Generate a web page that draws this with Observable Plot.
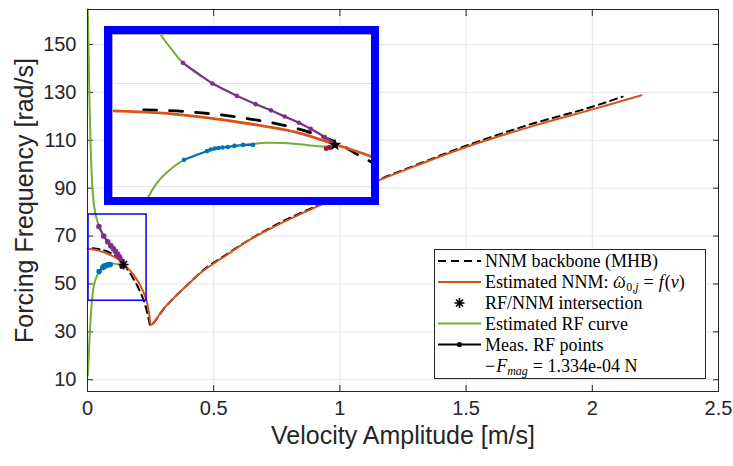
<!DOCTYPE html>
<html><head><meta charset="utf-8">
<script src="https://cdn.jsdelivr.net/npm/d3@7"></script>
<script src="https://cdn.jsdelivr.net/npm/@observablehq/plot@0.6"></script>
<style>
body{margin:0;background:#fff;}
#wrap{position:relative;width:733px;height:466px;overflow:hidden;}
#inset{position:absolute;left:104px;top:26px;width:259px;height:163px;border:8px solid #0000ff;background:#fff;}
#inset svg{display:block;}
#legend{position:absolute;left:434px;top:249px;}
#legend svg{display:block;}
</style></head><body><div id="wrap"></div>
<script>
// ---- axis ticks ----
const xTicks = [0, 0.5, 1, 1.5, 2, 2.5];
const xTickLabels = ["0", "0.5", "1", "1.5", "2", "2.5"];
const yTicks = [10, 30, 50, 70, 90, 110, 130, 150];
const insetGridY = [50, 70];
const xDomain = [0, 2.5];
const yDomain = [5.1, 164.6];
const insetXDomain = [0, 0.1665];
const insetYDomain = [47.9, 79.5];
const zoomBoxX = [0.004, 0.234];
const zoomBoxY = [43, 79];

// ---- NNM backbone (MHB), dashed black ----
const bbX = [0.02, 0.05, 0.08, 0.11, 0.13, 0.145, 0.16, 0.175, 0.19, 0.205, 0.22, 0.232, 0.242, 0.25, 0.265, 0.3, 0.35, 0.4, 0.45, 0.55, 0.65, 0.75, 0.9, 1.0, 1.15, 1.3, 1.5, 1.75, 2.0, 2.12];
const bbY = [64.9, 64.5, 63.5, 61.9, 60.2, 58.4, 55.8, 53.4, 50.7, 47.6, 43.9, 40.0, 35.5, 32.5, 34.2, 39.3, 45.0, 50.0, 55.0, 62.3, 69.0, 74.9, 82.2, 86.8, 93.4, 99.6, 107.7, 116.5, 124.0, 128.2];

// ---- Estimated NNM (orange) ----
const nnmX = [0.0, 0.03, 0.06, 0.09, 0.12, 0.143, 0.165, 0.185, 0.205, 0.22, 0.234, 0.243, 0.253, 0.27, 0.3, 0.35, 0.4, 0.45, 0.55, 0.647, 0.75, 0.911, 1.0, 1.162, 1.3, 1.495, 1.75, 2.0, 2.195];
const nnmY = [64.7, 64.3, 63.4, 62.1, 60.4, 58.2, 56.0, 53.5, 50.2, 47.0, 43.0, 38.5, 33.0, 35.0, 39.5, 45.0, 50.0, 54.8, 62.0, 68.7, 74.5, 82.4, 86.5, 93.6, 99.3, 107.0, 115.5, 122.9, 128.8];

// ---- Estimated RF curve (green), two branches ----
const rfUpX = [0.0012, 0.004, 0.008, 0.012, 0.016, 0.02, 0.025, 0.031, 0.0389, 0.0453, 0.0642, 0.080, 0.092, 0.1019, 0.1107, 0.1198, 0.1274, 0.1365, 0.143];
const rfUpY = [164.6, 148, 126, 109, 97, 89.5, 83.5, 79.5, 76.3, 74.0, 70.0, 67.6, 66.0, 64.8, 63.6, 62.4, 61.2, 59.7, 58.2];
const rfLoX = [0.0012, 0.003, 0.005, 0.0075, 0.010, 0.013, 0.016, 0.0195, 0.0229, 0.028, 0.0347, 0.046, 0.0608, 0.0681, 0.0784, 0.0903, 0.0989, 0.11, 0.1203, 0.1374, 0.143];
const rfLoY = [11.7, 16, 20.5, 26, 31, 36.5, 41, 45.2, 47.9, 50.5, 52.7, 55.2, 56.9, 57.5, 57.9, 58.3, 58.5, 58.45, 58.2, 57.8, 58.1];

// ---- Measured RF points ----
const upPtsX = [0.0453, 0.0642, 0.080, 0.092, 0.1019, 0.1107, 0.1198, 0.1274, 0.1365, 0.143];
const upPtsY = [74.0, 70.0, 67.6, 66.0, 64.8, 63.6, 62.4, 61.2, 59.6, 58.3];
const loPtsX = [0.046, 0.0608, 0.0631, 0.0657, 0.0681, 0.0707, 0.0741, 0.0784, 0.0839, 0.0903];
const loPtsY = [55.2, 56.9, 57.2, 57.4, 57.5, 57.6, 57.7, 57.9, 58.1, 58.1];
const midPtsX = [0.1374, 0.1395];
const midPtsY = [57.4, 57.6];

// ---- RF/NNM intersection ----
const crossX = [0.143];
const crossY = [58.1];

const C = {orange: "#D95319", green: "#77AC30", purple: "#7E2F8E", blue: "#0072BD", red: "#A2142F", box: "#0000FF", axis: "#262626", grid: "#e4e4e4"};

const pts = (xs, ys) => xs.map((x, i) => ({x, y: ys[i]}));
const bb = pts(bbX, bbY), nnm = pts(nnmX, nnmY), rfUp = pts(rfUpX, rfUpY), rfLo = pts(rfLoX, rfLoY);
const upPts = pts(upPtsX, upPtsY), loPts = pts(loPtsX, loPtsY), midPts = pts(midPtsX, midPtsY), cross = pts(crossX, crossY);
const upDots = upPts.slice(0, upPts.length - 1);
const zoomBox = [{x1: zoomBoxX[0], x2: zoomBoxX[1], y1: zoomBoxY[0], y2: zoomBoxY[1]}];

const asterisk8 = {
  draw(ctx, size) {
    const r = Math.sqrt(size / Math.PI), d = r * Math.SQRT1_2;
    ctx.moveTo(-r, 0); ctx.lineTo(r, 0);
    ctx.moveTo(0, -r); ctx.lineTo(0, r);
    ctx.moveTo(-d, -d); ctx.lineTo(d, d);
    ctx.moveTo(-d, d); ctx.lineTo(d, -d);
  }
};

const main = Plot.plot({
  width: 733, height: 466,
  marginLeft: 87, marginRight: 15, marginTop: 9, marginBottom: 75,
  x: {domain: xDomain},
  y: {domain: yDomain},
  style: {fontFamily: "'Liberation Sans', Arial, sans-serif", fontSize: "20px", color: C.axis, background: "#fff", overflow: "visible"},
  marks: [
    Plot.gridX(xTicks, {stroke: C.grid, strokeOpacity: 1}),
    Plot.gridY(yTicks, {stroke: C.grid, strokeOpacity: 1}),
    Plot.axisX(xTicks, {tickSize: 0, tickPadding: 9, tickFormat: d => xTickLabels[xTicks.indexOf(d)], label: null, fill: C.axis}),
    Plot.axisY(yTicks, {tickSize: 0, tickPadding: 11, label: null, fill: C.axis}),
    Plot.axisX(xTicks, {anchor: "bottom", tickSize: 6, insetBottom: 6, fill: "none", label: null, stroke: C.axis}),
    Plot.axisX(xTicks, {anchor: "top", tickSize: 6, insetTop: 6, fill: "none", label: null, stroke: C.axis}),
    Plot.axisY(yTicks, {anchor: "left", tickSize: 6, insetLeft: 6, fill: "none", label: null, stroke: C.axis}),
    Plot.axisY(yTicks, {anchor: "right", tickSize: 6, insetRight: 6, fill: "none", label: null, stroke: C.axis}),
    Plot.line(bb, {x: "x", y: "y", stroke: "#000", strokeWidth: 2, strokeDasharray: "7,5", curve: "monotone-x"}),
    Plot.line(nnm, {x: "x", y: "y", stroke: C.orange, strokeWidth: 2, curve: "catmull-rom"}),
    Plot.line(rfUp, {x: "x", y: "y", stroke: C.green, strokeWidth: 2, curve: "catmull-rom"}),
    Plot.line(rfLo, {x: "x", y: "y", stroke: C.green, strokeWidth: 2, curve: "catmull-rom"}),
    Plot.line(upPts, {x: "x", y: "y", stroke: C.purple, strokeWidth: 2}),
    Plot.dot(upDots, {x: "x", y: "y", fill: C.purple, r: 2.8}),
    Plot.line(loPts, {x: "x", y: "y", stroke: C.blue, strokeWidth: 2}),
    Plot.dot(loPts, {x: "x", y: "y", fill: C.blue, r: 2.8}),
    Plot.dot(midPts, {x: "x", y: "y", fill: C.red, r: 2.8}),
    Plot.dot(cross, {x: "x", y: "y", symbol: asterisk8, r: 5, stroke: "#000", strokeWidth: 1.6}),
    Plot.rect(zoomBox, {x1: "x1", x2: "x2", y1: "y1", y2: "y2", fill: "none", stroke: C.box, strokeWidth: 1.5}),
    Plot.frame({stroke: C.axis}),
    Plot.text(["Velocity Amplitude [m/s]"], {frameAnchor: "bottom", dy: 52, fontSize: 25, fill: C.axis}),
    Plot.text(["Forcing Frequency [rad/s]"], {frameAnchor: "left", textAnchor: "middle", dx: -63, rotate: -90, fontSize: 25, fill: C.axis})
  ]
});

const inset = Plot.plot({
  width: 259, height: 163,
  marginLeft: 0, marginRight: 0, marginTop: 0, marginBottom: 0,
  x: {domain: insetXDomain, axis: null},
  y: {domain: insetYDomain, axis: null},
  style: {background: "#fff", overflow: "hidden"},
  marks: [
    Plot.gridY(insetGridY, {stroke: C.grid, strokeOpacity: 1}),
    Plot.line(bb, {x: "x", y: "y", stroke: "#000", strokeWidth: 2.8, strokeDasharray: "13,13", curve: "monotone-x", clip: true}),
    Plot.line(nnm, {x: "x", y: "y", stroke: C.orange, strokeWidth: 2.8, curve: "catmull-rom", clip: true}),
    Plot.line(rfUp, {x: "x", y: "y", stroke: C.green, strokeWidth: 2, curve: "catmull-rom", clip: true}),
    Plot.line(rfLo, {x: "x", y: "y", stroke: C.green, strokeWidth: 2, curve: "catmull-rom", clip: true}),
    Plot.line(upPts, {x: "x", y: "y", stroke: C.purple, strokeWidth: 2}),
    Plot.dot(upDots, {x: "x", y: "y", fill: C.purple, r: 2.3}),
    Plot.line(loPts, {x: "x", y: "y", stroke: C.blue, strokeWidth: 2}),
    Plot.dot(loPts, {x: "x", y: "y", fill: C.blue, r: 2.3}),
    Plot.dot(midPts, {x: "x", y: "y", fill: C.red, r: 2.5}),
    Plot.dot(cross, {x: "x", y: "y", symbol: "star", r: 4, fill: "#000"}),
    Plot.frame({stroke: "#aaaaaa"})
  ]
});

const wrap = document.getElementById("wrap");
wrap.appendChild(main);
const insetDiv = document.createElement("div");
insetDiv.id = "inset";
insetDiv.appendChild(inset);
wrap.appendChild(insetDiv);

// ---- legend ----
const legendLabels = ["NNM backbone (MHB)", "Estimated NNM: ", "RF/NNM intersection", "Estimated RF curve", "Meas. RF points", "= 1.334e-04 N"];
const rowY = [12, 33, 54, 74.5, 95.5, 117];
const it = s => `<tspan font-style="italic">${s}</tspan>`;
const legendDiv = document.createElement("div");
legendDiv.id = "legend";
legendDiv.innerHTML = `
<svg width="272" height="130" font-family="'Liberation Serif','Times New Roman',serif" font-size="18" fill="#000">
<rect x="0.5" y="0.5" width="271" height="129" fill="#fff" stroke="${C.axis}" stroke-width="1"/>
<line x1="4" x2="47" y1="${rowY[0]}" y2="${rowY[0]}" stroke="#000" stroke-width="2" stroke-dasharray="8,5"/>
<text x="51" y="${rowY[0] + 6}">${legendLabels[0]}</text>
<line x1="4" x2="47" y1="${rowY[1]}" y2="${rowY[1]}" stroke="${C.orange}" stroke-width="2"/>
<text x="51" y="${rowY[1] + 6}" xml:space="preserve">${legendLabels[1]}<tspan id="omega" font-style="italic">ω</tspan><tspan font-size="12" dy="3" dx="0.5">0,</tspan><tspan font-size="12" font-style="italic">j</tspan><tspan dy="-3" dx="5">=</tspan><tspan dx="5" font-style="italic">f</tspan><tspan dx="1">(</tspan>${it("v")})</text>
<path transform="translate(25.5,${rowY[2]})" d="M-5,0L5,0M0,-5L0,5M-3.5,-3.5L3.5,3.5M-3.5,3.5L3.5,-3.5" stroke="#000" stroke-width="1.6" fill="none"/>
<text x="51" y="${rowY[2] + 6}">${legendLabels[2]}</text>
<line x1="4" x2="47" y1="${rowY[3]}" y2="${rowY[3]}" stroke="${C.green}" stroke-width="2"/>
<text x="51" y="${rowY[3] + 6}">${legendLabels[3]}</text>
<line x1="4" x2="47" y1="${rowY[4]}" y2="${rowY[4]}" stroke="#000" stroke-width="2"/>
<circle cx="25.5" cy="${rowY[4]}" r="2.6" fill="#000"/>
<text x="51" y="${rowY[4] + 6}">${legendLabels[4]}</text>
<text x="51" y="${rowY[5] + 6}" xml:space="preserve">−<tspan font-style="italic" dx="1">F</tspan><tspan font-size="12" font-style="italic" dy="3">mag</tspan><tspan dy="-3" dx="5">${legendLabels[5]}</tspan></text>
</svg>`;
wrap.appendChild(legendDiv);

// tilde accent over the omega, drawn as a small path
const om = legendDiv.querySelector("#omega");
const ob = om.getBBox();
const cx = ob.x + ob.width / 2 + 1.5, cy = rowY[1] - 4.5;
const tilde = document.createElementNS("http://www.w3.org/2000/svg", "path");
tilde.setAttribute("d", `M${cx - 3.5},${cy + 1} C${cx - 2.5},${cy - 1.5} ${cx - 1},${cy - 1} ${cx},${cy} S${cx + 2.5},${cy + 1.5} ${cx + 3.5},${cy - 1}`);
tilde.setAttribute("stroke", "#000");
tilde.setAttribute("stroke-width", "1");
tilde.setAttribute("fill", "none");
legendDiv.querySelector("svg").appendChild(tilde);
</script></body></html>
